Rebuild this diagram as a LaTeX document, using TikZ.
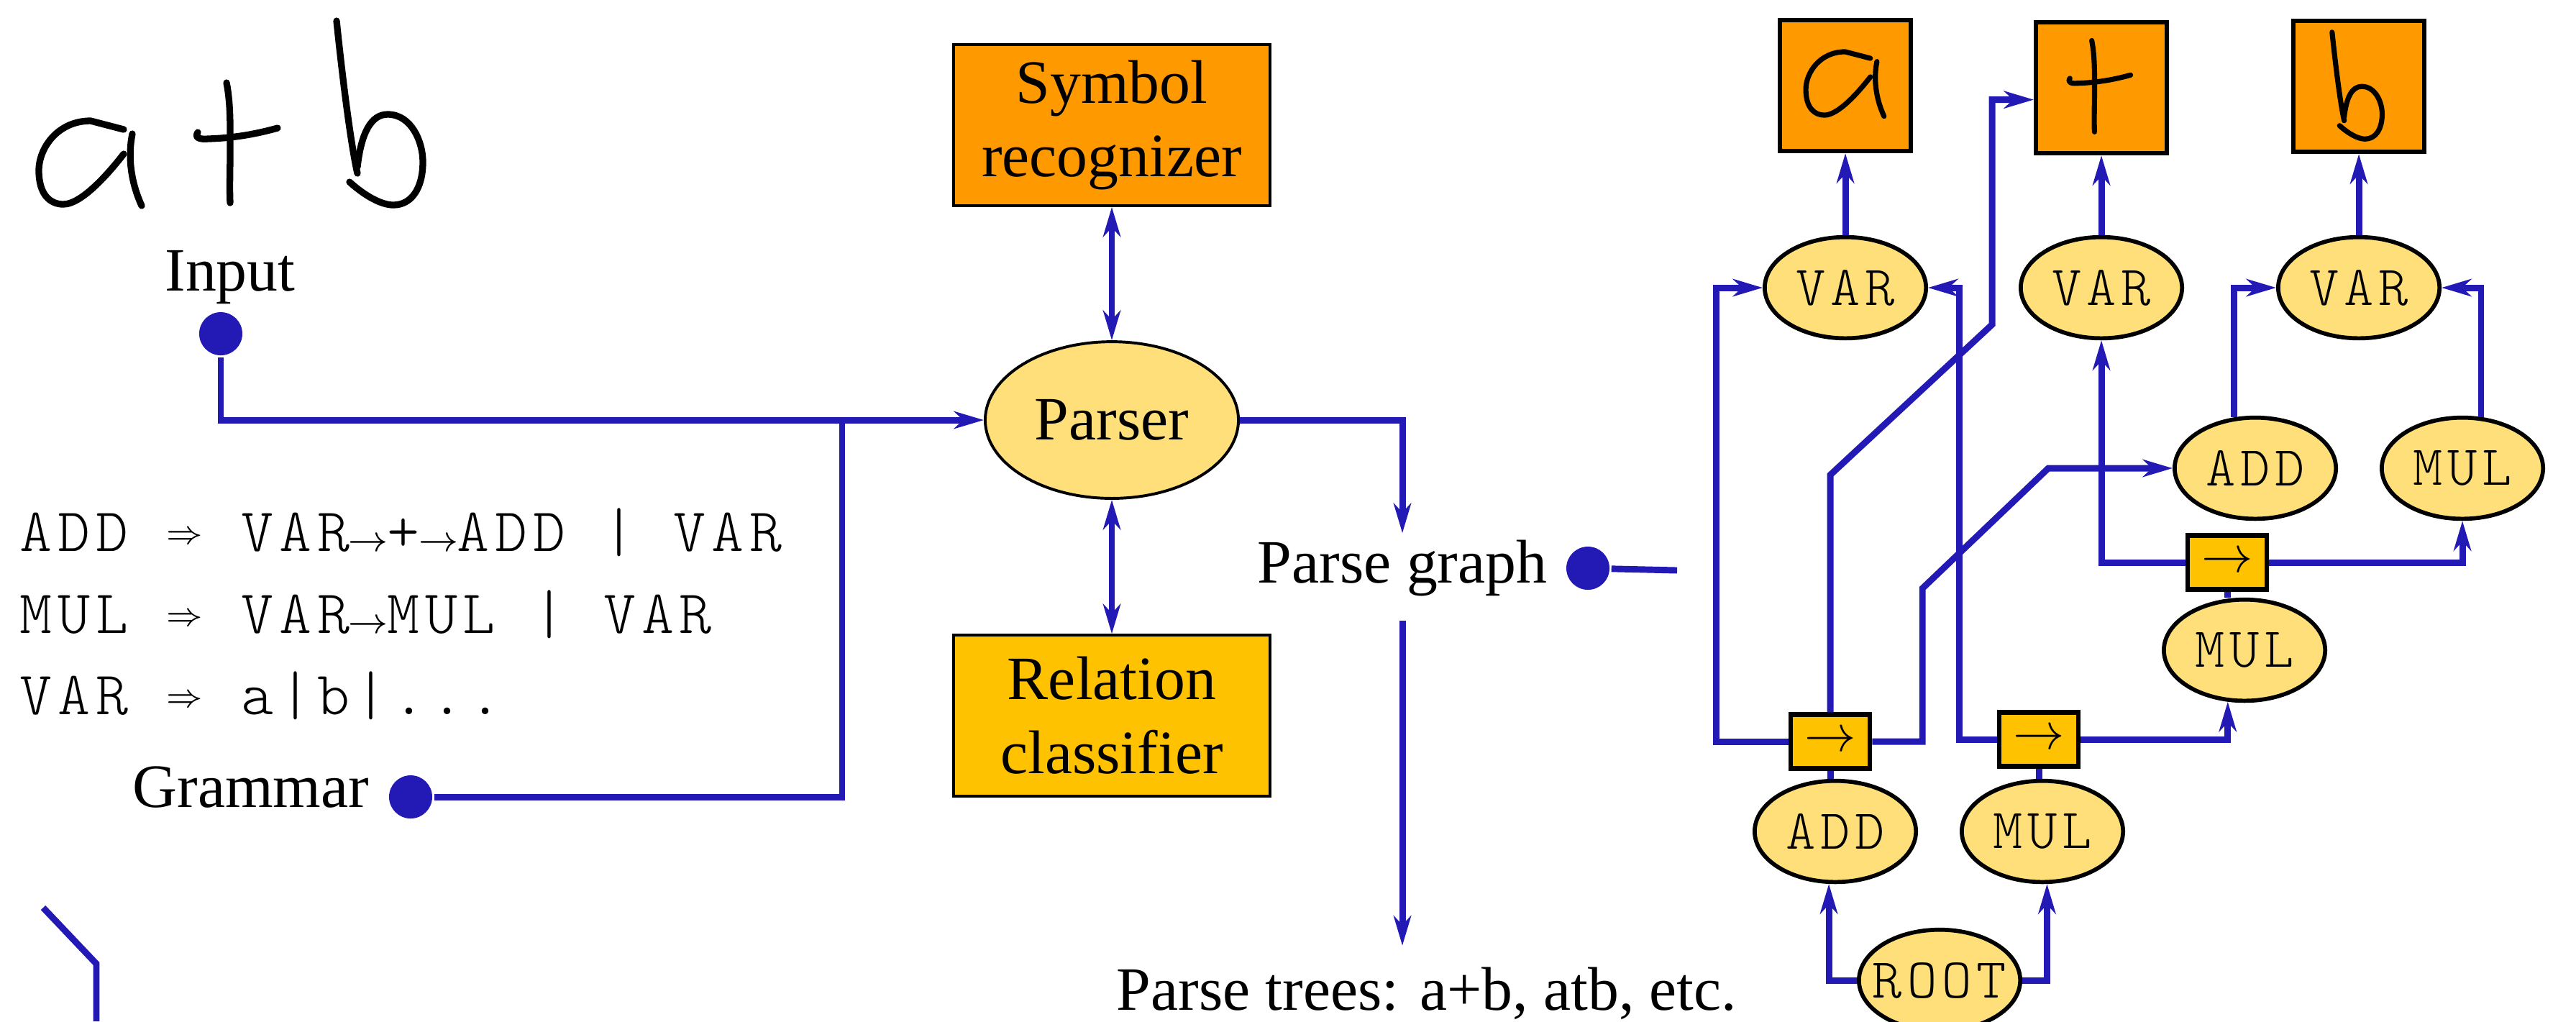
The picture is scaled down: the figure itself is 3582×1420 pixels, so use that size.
\documentclass[tikz,border=0pt]{standalone}
\usepackage{fontspec}
\setmainfont{Liberation Serif}
\setmonofont{lmmonolt10-regular}[Extension=.otf,LetterSpace=9]
\usetikzlibrary{arrows.meta,shapes.geometric}

\definecolor{flowblue}{RGB}{35,25,180}
\definecolor{symorange}{RGB}{255,153,0}
\definecolor{relamber}{RGB}{255,194,0}
\definecolor{ntyellow}{RGB}{255,223,122}

\newcommand{\ra}{\makebox[0.61em]{\fontsize{7}{8}\selectfont$\rightarrow$}}
\newcommand{\imp}{\makebox[0.61em]{\raisebox{1.5pt}{\fontsize{6}{7}\selectfont$\Rightarrow$}}}

\tikzset{every picture/.style={line width=0.75pt}}
\tikzset{
  flow/.style={draw=flowblue,line width=1.25pt},
  arr/.style={-{Stealth[length=5.8pt,width=3.4pt,inset=1.8pt]}},
  darr/.style={{Stealth[length=5.8pt,width=3.4pt,inset=1.8pt]}-{Stealth[length=5.8pt,width=3.4pt,inset=1.8pt]}},
  blob/.style={circle,fill=flowblue,inner sep=0pt,minimum size=8.4pt},
  txt/.style={inner sep=0pt,font=\fontsize{12}{14.4}\selectfont},
  gramline/.style={inner sep=0pt,anchor=base west,font=\ttfamily\fontsize{12}{14.4}\selectfont},
  module/.style={draw,line width=0.55pt,minimum width=61.5pt,minimum height=31.3pt,inner sep=0pt,align=center,font=\fontsize{12}{14.4}\selectfont},
  parsenode/.style={ellipse,draw,line width=0.55pt,fill=ntyellow,minimum width=49.3pt,minimum height=30.5pt,inner sep=0pt,font=\fontsize{12}{14.4}\selectfont},
  symbox/.style={draw,line width=0.85pt,fill=symorange,minimum size=25.5pt,inner sep=0pt},
  nterm/.style={ellipse,draw,line width=0.8pt,fill=ntyellow,minimum width=31.4pt,minimum height=19.7pt,inner xsep=-4pt,inner ysep=0pt,font=\ttfamily\fontsize{11}{13}\selectfont},
  relbox/.style={draw,line width=0.9pt,fill=relamber,minimum width=15.4pt,minimum height=10.5pt,inner sep=0pt,font=\fontsize{10}{12}\selectfont},
  hand/.style={line cap=round,line join=round,yscale=-1},
  hwa/.pic={
    \draw (47,-46) -- (1,-58) .. controls (-45,-58) and (-71,-20) .. (-71,11)
      .. controls (-71,45) and (-55,58) .. (-37,58) .. controls (-10,58) and (30,10) .. (47,-12);
    \draw (59,-40) .. controls (53,-10) and (56,25) .. (72,60);
  },
  hwplus/.pic={
    \draw (-15,-85) .. controls (-9,-55) and (-10,-20) .. (-10,10) .. controls (-10,40) and (-11,60) .. (-10,82);
    \draw (-55,-16) .. controls (-60,-8) and (-52,-6) .. (-40,-7) .. controls (-10,-8) and (20,-12) .. (56,-22);
  },
  hwb/.pic={
    \draw (-59,-128) .. controls (-52,-60) and (-40,40) .. (-30,84);
    \draw (-30,75) .. controls (-25,30) and (-12,2) .. (12,2) .. controls (45,2) and (61,40) .. (61,68)
      .. controls (61,105) and (45,128) .. (20,128) .. controls (3,128) and (-20,115) .. (-41,96);
  }
}

\begin{document}
\begin{tikzpicture}[x=0.14pt,y=0.14pt,yscale=-1,xscale=1]
	\useasboundingbox (0,0) rectangle (3582,1420);
	
	%Shape: Free Drawing (handwritten input)
	\pic[hand,line width=1.3pt] at (125,226) {hwa};
	\pic[hand,line width=1.3pt] at (330,200) {hwplus};
	\pic[hand,line width=1.3pt] at (527,157) {hwb};
	
	% Text Node
	\node[txt] (inlab) at (320,386) {Input};
	\node[blob] (indot) at (307,464) {};
	
	% Text Node
	\node[gramline] (g1) at (25,766) {ADD \imp{} VAR\ra+\ra ADD | VAR};
	\node[gramline] (g2) at (25,880) {MUL \imp{} VAR\ra MUL | VAR};
	\node[gramline] (g3) at (25,993) {VAR \imp{} a|b|...};
	\node[txt] (gramlab) at (349,1094) {Grammar};
	\node[blob] (gramdot) at (571,1108) {};
	
	%Shape: Rectangle / Ellipse
	\node[module,fill=symorange] (symrec) at (1546,174) {Symbol\\recognizer};
	\node[parsenode] (parser) at (1546,584) {Parser};
	\node[module,fill=relamber] (relcls) at (1546,995) {Relation\\classifier};
	
	% Text Node
	\node[txt] (pgraph) at (1950,790) {Parse graph};
	\node[blob] (pgdot) at (2208,790) {};
	\node[txt,anchor=base] (ptrees) at (1984,1404) {Parse trees: a+b, atb, etc.};
	
	%Shape: Rectangle (symbols)
	\node[symbox] (boxa) at (2566,119) {};
	\node[symbox] (boxp) at (2922,122) {};
	\node[symbox] (boxb) at (3280,120) {};
	\pic[hand,line width=1pt,scale=0.76] at (2565,116) {hwa};
	\pic[hand,line width=1pt,scale=0.76] at (2920,121) {hwplus};
	\pic[hand,line width=1pt,scale=0.58] at (3277,119) {hwb};
	
	%Shape: Ellipse (parse graph)
	\node[nterm] (vara) at (2566,400) {VAR};
	\node[nterm] (varp) at (2922,400) {VAR};
	\node[nterm] (varb) at (3280,400) {VAR};
	\node[nterm] (addr) at (3136,651) {ADD};
	\node[nterm] (mulr) at (3424,651) {MUL};
	\node[relbox] (opc) at (3097,782) {$\rightarrow$};
	\node[nterm] (mulm) at (3121,904) {MUL};
	\node[relbox] (opa) at (2545,1031) {$\rightarrow$};
	\node[relbox] (opb) at (2835,1028) {$\rightarrow$};
	\node[nterm] (addl) at (2552,1156) {ADD};
	\node[nterm] (mull) at (2840,1156) {MUL};
	\node[nterm] (root) at (2697,1363) {ROOT};
	
	%Straight Lines (left)
	\coordinate (junc) at (1171,584);
	\draw[flow,arr] (indot) |- (parser);
	\draw[flow] (gramdot) -| (junc);
	\draw[flow,darr] (symrec) -- (parser);
	\draw[flow,darr] (parser) -- (relcls);
	\draw[flow,arr,shorten >=1pt] (parser.east) -| (pgraph.north);
	\draw[flow,arr,shorten <=4.4pt,shorten >=3.8pt] (pgraph.south) -- (pgraph.south |- ptrees.north);
	\coordinate (pgend) at (2332,793);
	\draw[flow] (pgdot) -- (pgend);
	\coordinate (fraga) at (60,1262);
	\coordinate (fragb) at (134,1420);
	\draw[flow] (fraga) -- (134,1340) -- (fragb);
	
	%Straight Lines (parse graph)
	\draw[flow,arr] (vara) -- (boxa);
	\draw[flow,arr] (varp) -- (boxp);
	\draw[flow,arr] (varb) -- (boxb);
	\draw[flow,arr] (addr.113) |- (varb.west);
	\draw[flow,arr] (mulr.70) |- (varb.east);
	\draw[flow,arr] (opa.west) -- ++(-100,0) |- (vara.west);
	\draw[flow,arr] (opb.west) -- ++(-52,0) |- (vara.east);
	\draw[flow,arr] (opa.north) -- ++(0,-330) -- ++(225,-209) |- (boxp.190);
	\draw[flow,arr] (opa.east) -- ++(70,0) -- ++(0,-213) -- ++(175,-167) -- (addr.west);
	\draw[flow] (opa) -- (opa |- addl.north);
	\draw[flow] (opb) -- (opb |- mull.north);
	\draw[flow] (opc) -- (opc |- mulm.north);
	\draw[flow,arr] (opb.east) -| (mulm.252);
	\draw[flow,arr] (opc.west) -| (varp.south);
	\draw[flow,arr] (opc.east) -| (mulr.south);
	\draw[flow,arr] (root.west) -| (addl.263);
	\draw[flow,arr] (root.east) -| (mull.275);
	
\end{tikzpicture}
\end{document}
